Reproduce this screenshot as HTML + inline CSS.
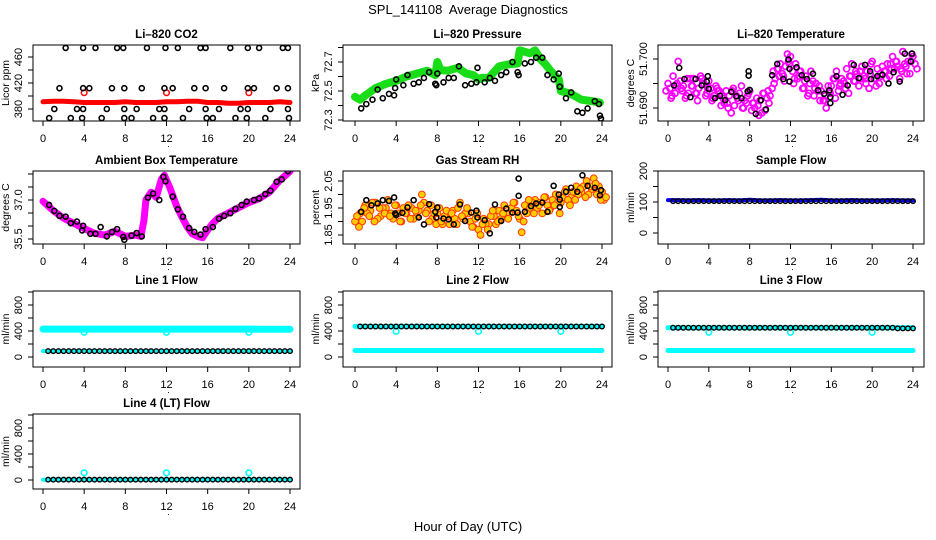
<!DOCTYPE html>
<html><head><meta charset="utf-8"><title>SPL_141108 Average Diagnostics</title>
<style>
html,body{margin:0;padding:0;background:#fff;}
svg{display:block;font-family:"Liberation Sans",Arial,sans-serif;}
</style></head>
<body>
<svg id="chart" width="936" height="540" viewBox="0 0 936 540" xmlns="http://www.w3.org/2000/svg">
<rect width="936" height="540" fill="#fff"/>
<text x="468" y="14" text-anchor="middle" font-size="13" style="white-space:pre">SPL_141108&#160; Average Diagnostics</text>
<text x="468" y="531" text-anchor="middle" font-size="13">Hour of Day (UTC)</text>
</svg>
<script>
// ---------- data ----------
const xTicks = [0,4,8,12,16,20,24];
const halfHours = [0.5,1,1.5,2,2.5,3,3.5,4,4.5,5,5.5,6,6.5,7,7.5,8,8.5,9,9.5,10,10.5,11,11.5,12,12.5,13,13.5,14,14.5,15,15.5,16,16.5,17,17.5,18,18.5,19,19.5,20,20.5,21,21.5,22,22.5,23,23.5,24];
const cloudHours = [0,0.5,1,1.5,2,2.5,3,3.5,4,4.5,5,5.5,6,6.5,7,7.5,8,8.5,9,9.5,10,10.5,11,11.5,12,12.5,13,13.5,14,14.5,15,15.5,16,16.5,17,17.5,18,18.5,19,19.5,20,20.5,21,21.5,22,22.5,23,23.5,24];
const bandHours = [0,1,2,3,4,5,6,7,8,9,10,11,12,13,14,15,16,17,18,19,20,21,22,23,24];

// CO2
const co2BlackH = [2.2,3.9,5.1,7.2,7.8,10.1,11.9,13.1,15.3,15.8,18.2,19.9,21.0,23.3,23.8,
 1.6,3.9,4.5,6.7,7.9,9.6,11.8,12.6,14.7,15.8,17.6,19.9,20.5,22.7,23.8,
 1.1,3.3,3.9,6.2,7.9,9.1,11.3,11.8,14.2,15.8,17.1,19.2,19.9,22.1,23.8,
 0.6,2.7,3.8,5.7,7.9,8.6,10.7,11.8,13.6,15.9,16.5,18.7,19.8,21.6,23.9];
const co2BlackV = [474,474,474,474,474,474,474,474,474,474,474,474,474,474,474,
 412,412,412,412,412,412,412,412,412,412,412,412,412,412,412,
 380,380,380,380,380,380,380,380,380,380,380,380,380,380,380,
 366,366,366,366,366,366,366,366,366,366,366,366,366,366,366];
const co2RedV = [391,392,392,391,390,390,390,390,391,390,390,390,391,391,392,392,390,390,389,389,390,390,390,391,390];
const co2RedPtH = [4,12,20];
const co2RedPtV = [405,405,405];

// Pressure
const presGreenH = [0,0.5,1,2,3,4,5,6,7,7.8,8,8.3,9,10,10.8,11.5,12,12.3,13,14,15,15.8,16,17,17.5,18,18.5,19,19.8,20,21,22,23,23.8];
const presGreenV = [72.46,72.44,72.47,72.52,72.55,72.57,72.60,72.62,72.64,72.61,72.70,72.645,72.64,72.66,72.62,72.61,72.58,72.59,72.59,72.67,72.685,72.69,72.78,72.76,72.78,72.72,72.685,72.64,72.58,72.50,72.48,72.44,72.43,72.42];
const presBlackH = [0.6,1.1,1.7,2.2,2.7,3.3,3.8,3.9,4.0,4.7,5.1,5.7,6.2,6.7,7.2,7.8,7.9,8.0,8.6,9.1,9.6,10.1,10.7,11.3,11.8,11.9,12.6,13.1,13.6,14.2,14.7,15.3,15.8,15.9,16.5,17.1,17.6,18.2,18.7,19.3,19.9,19.8,20.5,21.0,21.6,22.1,22.6,23.3,23.7,23.8,23.9];
const presBlackV = [72.38,72.41,72.44,72.51,72.45,72.48,72.47,72.52,72.58,72.54,72.61,72.55,72.56,72.59,72.63,72.55,72.54,72.62,72.56,72.59,72.59,72.67,72.54,72.55,72.56,72.66,72.56,72.59,72.57,72.61,72.63,72.70,72.63,72.61,72.69,72.70,72.73,72.73,72.61,72.58,72.53,72.62,72.45,72.49,72.36,72.35,72.38,72.43,72.41,72.33,72.31];

// Li-820 temperature
const tempMagA = [51.6950,51.6965,51.6995,51.6945,51.6930,51.6960,51.6940,51.6950,51.6955,51.6925,51.6935,51.6910,51.6925,51.6905,51.6930,51.6915,51.6935,51.6900,51.6915,51.6895,51.6925,51.6960,51.6990,51.6985,51.7005,51.6990,51.6975,51.6965,51.6975,51.6950,51.6935,51.6900,51.6945,51.6975,51.6960,51.6980,51.6990,51.6970,51.6985,51.6975,51.6995,51.6980,51.6985,51.6990,51.7005,51.6985,51.7015,51.6995,51.7005];
const tempMagB = [51.6940,51.6930,51.6955,51.6920,51.6960,51.6930,51.6965,51.6925,51.6940,51.6945,51.6905,51.6935,51.6890,51.6925,51.6945,51.6910,51.6895,51.6920,51.6890,51.6920,51.6940,51.6980,51.6970,51.7010,51.6975,51.6960,51.6940,51.6925,51.6955,51.6935,51.6915,51.6945,51.6960,51.6935,51.6955,51.6930,51.6955,51.6945,51.6965,51.6940,51.6960,51.6950,51.6975,51.6965,51.6980,51.6960,51.6990,51.6970,51.6990];
const tempMagC = [51.6925,51.6950,51.6935,51.6960,51.6945,51.6915,51.6950,51.6940,51.6920,51.6935,51.6920,51.6900,51.6940,51.6915,51.6900,51.6930,51.6910,51.6885,51.6930,51.6910,51.6950,51.6965,51.6955,51.6990,51.6960,51.6975,51.6955,51.6950,51.6940,51.6915,51.6925,51.6930,51.6920,51.6950,51.6940,51.6965,51.6975,51.6960,51.6950,51.6990,51.6945,51.6965,51.6960,51.6980,51.6995,51.6975,51.6970,51.7010,51.6980];
const tempMagD = [51.6935,51.6920,51.6945,51.6940,51.6925,51.6945,51.6930,51.6960,51.6930,51.6915,51.6940,51.6925,51.6910,51.6935,51.6920,51.6900,51.6925,51.6910,51.6905,51.6930,51.6935,51.6975,51.6980,51.6965,51.6995,51.6950,51.6965,51.6940,51.6930,51.6925,51.6945,51.6915,51.6935,51.6960,51.6945,51.6950,51.6965,51.6955,51.6975,51.6960,51.6970,51.6960,51.6970,51.6975,51.6990,51.6995,51.6980,51.6985,51.6995];
const tempBlackH = [0.6,1.1,1.6,2.2,2.7,3.3,3.8,3.9,4.0,4.6,5.1,5.6,6.2,6.7,7.2,7.8,7.9,7.9,8.0,8.6,9.1,9.6,10.2,10.7,11.3,11.8,11.9,11.9,12.6,13.1,13.6,14.2,14.7,15.3,15.8,15.9,15.9,16.5,17.1,17.6,18.2,18.7,19.3,19.8,19.9,20.5,21.0,21.6,22.1,22.7,23.2,23.8,23.9];
const tempBlackV = [51.6946,51.6982,51.6959,51.6922,51.6959,51.6946,51.6954,51.6965,51.6939,51.6920,51.6925,51.6916,51.6933,51.6924,51.6920,51.6934,51.6975,51.6966,51.6937,51.6888,51.6916,51.6897,51.6967,51.6990,51.6959,51.6999,51.6980,51.6954,51.6983,51.6967,51.6959,51.6970,51.6936,51.6929,51.6936,51.6922,51.6910,51.6965,51.6927,51.6946,51.6988,51.6961,51.6988,51.6975,51.6959,51.6965,51.6968,51.6950,51.6973,51.6954,51.7011,51.6995,51.7011];

// Ambient box temperature
const ambMagH = [0,1,2,3,4,5,6,7,8,9,9.5,9.8,10,10.5,11,11.5,11.8,12.3,13,13.5,14,14.5,15,15.5,16,16.5,17,18,19,20,21,22,23,24];
const ambMagV = [36.95,36.59,36.30,36.10,35.90,35.72,35.65,35.80,35.60,35.65,35.60,36.20,37.00,37.30,37.10,37.80,37.95,37.50,36.75,36.35,35.97,35.70,35.60,35.55,35.85,36.10,36.30,36.50,36.70,36.90,37.05,37.30,37.75,38.10];
const ambBlackH = [0.6,1.1,1.6,2.2,2.7,3.3,3.8,3.9,4.6,5.1,5.6,6.2,6.7,7.2,7.8,7.9,8.6,9.1,9.6,10.2,10.7,11.3,11.7,11.9,12.6,13.1,13.6,14.2,14.7,15.3,15.8,16.5,17.1,17.6,18.2,18.7,19.3,19.8,20.5,21.0,21.6,22.1,22.7,23.2,23.8];
const ambBlackV = [36.81,36.58,36.39,36.36,36.11,36.17,35.83,36.01,35.70,35.70,35.96,35.60,35.77,35.88,35.58,35.47,35.63,35.73,35.60,37.09,37.25,37.00,37.89,37.72,37.13,36.64,36.36,35.92,35.77,35.67,35.88,35.96,36.28,36.39,36.49,36.66,36.81,36.94,37.00,37.06,37.23,37.36,37.70,37.79,38.11];

// Gas stream RH
const rhA = [1.90,1.93,1.96,1.94,1.97,1.92,1.95,1.93,1.96,1.90,1.93,1.95,1.92,2.00,1.94,1.91,1.93,1.89,1.92,1.94,1.95,1.91,1.93,1.88,1.87,1.91,1.89,1.92,1.94,1.96,1.93,1.97,1.91,1.96,1.95,1.98,1.97,1.99,1.95,2.00,1.97,2.02,1.99,2.03,2.01,2.05,2.02,2.00,2.01];
const rhB = [1.92,1.90,1.93,1.97,1.91,1.95,1.98,1.91,1.93,1.95,1.96,1.91,1.94,1.97,1.90,1.93,1.95,1.92,1.89,1.91,1.97,1.93,1.90,1.91,1.85,1.89,1.92,1.89,1.91,1.93,1.95,1.94,1.86,1.93,1.97,1.95,1.93,1.96,1.98,1.97,1.99,1.98,2.01,2.00,2.03,2.00,2.06,2.03,1.98];
const rhC = [1.88,1.95,1.92,1.90,1.95,1.93,1.92,1.96,1.90,1.93,1.91,1.94,1.96,1.93,1.96,1.89,1.90,1.94,1.93,1.89,1.92,1.95,1.88,1.93,1.89,1.87,1.94,1.90,1.93,1.91,1.97,1.92,1.90,1.98,1.93,1.96,1.99,1.94,1.96,1.93,2.01,1.96,1.98,2.02,1.99,2.03,2.04,1.98,1.99];
const rhBlackH = [0.6,1.1,1.6,2.2,2.7,3.3,3.8,3.9,4.0,4.6,5.1,5.7,6.2,6.7,7.2,7.8,7.9,8.0,8.6,9.1,9.6,10.2,10.7,11.3,11.8,11.9,12.6,13.1,13.6,14.2,14.7,15.3,15.8,15.9,15.9,16.5,17.1,17.6,18.2,18.7,19.3,19.8,19.9,19.9,20.5,21.0,21.6,22.1,22.6,23.3,23.8,23.9];
const rhBlackV = [1.936,1.979,1.960,1.967,1.979,1.976,1.989,1.930,1.924,1.932,1.952,1.979,1.915,1.889,1.964,1.936,1.915,1.952,1.911,1.908,1.889,1.963,1.902,1.933,1.940,1.915,1.905,1.856,1.963,1.902,1.948,1.933,1.933,1.995,2.059,1.936,1.957,1.967,1.970,1.936,2.032,2.000,1.981,1.954,2.010,2.025,2.010,2.071,2.032,2.025,1.997,2.016];

// Flows
const sampleBlueV = [106,106,105,106,105,105,106,105,107,105,105,106,105,105,106,107,105,105,106,105,105,105,106,105,105];
const sampleBlackV = [103,103,103,103,103,103,103,103,103,103,103,103,103,103,103,103,103,103,103,103,103,103,103,103,103,103,103,103,103,103,103,103,103,103,103,103,103,103,103,103,103,103,103,103,103,103,103,103];
const line1CyanHiV = [430,430,430,430,430,430,430,430,430,430,430,430,430,430,430,430,430,430,430,430,430,428,428,428,428];
const line1CyanLoV = [92,92,92,92,92,92,92,92,92,92,92,92,92,92,92,92,92,92,92,92,92,92,92,92,92];
const line1BlackV = [90,90,90,90,90,90,90,90,90,90,90,90,90,90,90,90,90,90,90,90,90,90,90,90,90,90,90,90,90,90,90,90,90,90,90,90,90,90,90,90,90,90,90,90,90,90,90,90];
const line2CyanLoV = [100,100,100,100,100,100,100,100,100,100,100,100,100,100,100,100,100,100,100,100,100,100,100,100,100];
const line2BlackV = [470,470,470,470,470,470,470,470,470,470,470,470,470,470,470,470,470,470,470,470,470,470,470,470,470,470,470,470,470,470,470,470,470,470,470,470,470,470,470,470,470,470,470,470,470,470,470,470];
const line3CyanLoV = [100,100,100,100,100,100,100,100,100,100,100,100,100,100,100,100,100,100,100,100,100,100,100,100,100];
const line3BlackV = [450,450,450,450,450,450,450,450,450,450,450,450,450,450,450,450,450,450,450,450,450,450,450,450,450,450,450,450,450,450,450,450,450,450,450,450,450,450,450,450,450,450,450,450,440,440,440,440];
const line4BlackV = [5,5,5,5,5,5,5,5,5,5,5,5,5,5,5,5,5,5,5,5,5,5,5,5,5,5,5,5,5,5,5,5,5,5,5,5,5,5,5,5,5,5,5,5,5,5,5,5];
const dipH = [4,12,20];
const line1DipV = [380,380,380];
const line2DipV = [395,395,395];
const line3DipV = [380,380,380];
const line4DipV = [110,110,110];

// ---------- drawing ----------
const NS = "http://www.w3.org/2000/svg";
const svg = document.getElementById('chart');
const COLS = [{bx0:33,bx1:300,x0:43,x24:290},{bx0:343,bx1:612,x0:355,x24:602},{bx0:658,bx1:924,x0:668,x24:913}];
const ROWS = [{by0:45,by1:121},{by0:171,by1:244},{by0:291,by1:367},{by0:414,by1:489}];

function el(tag, attrs, parent){
  const e = document.createElementNS(NS, tag);
  for (const k in attrs) e.setAttribute(k, attrs[k]);
  (parent||svg).appendChild(e);
  return e;
}

function makePanel(cfg){
  const c = COLS[cfg.col], r = ROWS[cfg.row];
  const g = el('g', {});
  
  
  const sx = h => c.x0 + h*(c.x24-c.x0)/24;
  const sy = v => cfg.p1 + (v-cfg.v1)*(cfg.p2-cfg.p1)/(cfg.v2-cfg.v1);
  const t = el('text', {x:(c.bx0+c.bx1)/2, y:r.by0-7, 'text-anchor':'middle', 'font-size':11.5, 'font-weight':'bold'}, g);
  t.textContent = cfg.title;
  
  
  const xa = el('g', {}, g);
  
  
  for (const h of xTicks){
    const x = sx(h);
    el('line', {x1:x, x2:x, y1:r.by1, y2:r.by1+5, stroke:'#000', 'stroke-width':1}, xa);
    const lt = el('text', {x:x, y:r.by1+21, 'text-anchor':'middle', 'font-size':11}, xa);
    lt.textContent = h;
    
    
  }
  const dotTxt = el('text', {x:sx(12)+2, y:r.by1+26, 'text-anchor':'middle', 'font-size':9}, xa);
  dotTxt.textContent = '.';
  const ya = el('g', {}, g);
  
  
  for (const v of cfg.ticks){
    const y = sy(v);
    el('line', {x1:c.bx0-5, x2:c.bx0, y1:y, y2:y, stroke:'#000', 'stroke-width':1}, ya);
  }
  for (let i=0;i<cfg.labels.length;i++){
    const y = sy(cfg.labels[i]);
    const lx = c.bx0-11;
    const lt = el('text', {x:lx, y:y, 'text-anchor':'middle', 'font-size':11, transform:'rotate(-90 '+lx+' '+y+')'}, ya);
    lt.textContent = cfg.labelText[i];
    
    
  }
  const yl = el('text', {x:c.bx0-24, y:(r.by0+r.by1)/2, 'text-anchor':'middle', 'font-size':10.5, transform:'rotate(-90 '+(c.bx0-24)+' '+((r.by0+r.by1)/2)+')'}, ya);
  yl.textContent = cfg.ylab;
  
  
  const clipId = 'clip-' + cfg.name;
  const cp = el('clipPath', {id:clipId}, g);
  el('rect', {x:c.bx0, y:r.by0, width:c.bx1-c.bx0, height:r.by1-r.by0}, cp);
  const plot = el('g', {'clip-path':'url(#'+clipId+')'}, g);
  
  
  const box = el('rect', {x:c.bx0, y:r.by0, width:c.bx1-c.bx0, height:r.by1-r.by0, fill:'none', stroke:'#000', 'stroke-width':1}, g);
  
  
  return {sx, sy, plot};
}

function band(P, hs, vs, color, w, name){
  let d = '';
  for (let i=0;i<hs.length;i++) d += (i?'L':'M') + P.sx(hs[i]).toFixed(1) + ' ' + P.sy(vs[i]).toFixed(1);
  const p = el('path', {d:d, fill:'none', stroke:color, 'stroke-width':w, 'stroke-linejoin':'round', 'stroke-linecap':'round'}, P.plot);
  
  
}
function points(P, hs, vs, color, r, sw, name, fill, dx){
  const g = el('g', {}, P.plot);
  
  
  for (let i=0;i<hs.length;i++){
    const c = el('circle', {cx:P.sx(hs[i])+(dx||0), cy:P.sy(vs[i]), r:r, fill:fill||'none', stroke:color, 'stroke-width':sw}, g);
    
    
  }
}

// CO2
let P = makePanel({name:'co2', col:0, row:0, title:'Li\u2013820 CO2', ylab:'Licor ppm', v1:380, p1:109, v2:460, p2:57, ticks:[380,400,420,440,460], labels:[380,420,460], labelText:['380','420','460']});
band(P, bandHours, co2RedV, '#ff0000', 5, 'co2-red-band');
points(P, co2RedPtH, co2RedPtV, '#ff0000', 2.8, 1.5, 'co2-red-circles');
points(P, co2BlackH, co2BlackV, '#000', 2.5, 1.6, 'co2-black-circles');

// Pressure
P = makePanel({name:'pressure', col:1, row:0, title:'Li\u2013820 Pressure', ylab:'kPa', v1:72.3, p1:120, v2:72.7, p2:62, ticks:[72.3,72.4,72.5,72.6,72.7,72.8], labels:[72.3,72.5,72.7], labelText:['72.3','72.5','72.7']});
band(P, presGreenH, presGreenV, '#18dd18', 8, 'pressure-green-band');
points(P, presBlackH, presBlackV, '#000', 2.5, 1.6, 'pressure-black-circles');

// Temperature
P = makePanel({name:'licor-temp', col:2, row:0, title:'Li\u2013820 Temperature', ylab:'degrees C', v1:51.690, p1:108, v2:51.700, p2:59, ticks:[51.690,51.695,51.700], labels:[51.690,51.700], labelText:['51.690','51.700']});
points(P, cloudHours, tempMagA, '#ff00ff', 3, 1.7, 'temp-magenta-a', 'none', 0);
points(P, cloudHours, tempMagB, '#ff00ff', 3, 1.7, 'temp-magenta-b', 'none', 2);
points(P, cloudHours, tempMagC, '#ff00ff', 3, 1.7, 'temp-magenta-c', 'none', 4);
points(P, cloudHours, tempMagD, '#ff00ff', 3, 1.7, 'temp-magenta-d', 'none', -2);
points(P, tempBlackH, tempBlackV, '#000', 2.5, 1.6, 'temp-black-circles');

// Ambient
P = makePanel({name:'ambient', col:0, row:1, title:'Ambient Box Temperature', ylab:'degrees C', v1:35.5, p1:239, v2:37.0, p2:200, ticks:[35.5,36,36.5,37,37.5,38], labels:[35.5,37.0], labelText:['35.5','37.0']});
band(P, ambMagH, ambMagV, '#ff00ff', 7, 'ambient-magenta-band');
points(P, ambBlackH, ambBlackV, '#000', 2.5, 1.6, 'ambient-black-circles');

// RH
P = makePanel({name:'rh', col:1, row:1, title:'Gas Stream RH', ylab:'percent', v1:1.85, p1:235, v2:2.05, p2:181, ticks:[1.85,1.90,1.95,2.00,2.05], labels:[1.85,1.95,2.05], labelText:['1.85','1.95','2.05']});
points(P, cloudHours, rhA, '#ff3a00', 3.4, 1, 'rh-orange-a', '#ffcc00', 0);
points(P, cloudHours, rhB, '#ff3a00', 3.4, 1, 'rh-orange-b', '#ffcc00', 2);
points(P, cloudHours, rhC, '#ff3a00', 3.4, 1, 'rh-orange-c', '#ffcc00', 4);
points(P, rhBlackH, rhBlackV, '#000', 2.5, 1.6, 'rh-black-circles');

// Sample flow
P = makePanel({name:'sample-flow', col:2, row:1, title:'Sample Flow', ylab:'ml/min', v1:0, p1:233, v2:200, p2:171, ticks:[0,50,100,150,200], labels:[0,100,200], labelText:['0','100','200']});
band(P, bandHours, sampleBlueV, '#0000ff', 4, 'sample-blue-band');
points(P, halfHours, sampleBlackV, '#000', 2.3, 1.4, 'sample-black-circles');

const flowTicks = [0,200,400,600,800,1000];
// Line 1
P = makePanel({name:'line1-flow', col:0, row:2, title:'Line 1 Flow', ylab:'ml/min', v1:0, p1:357, v2:800, p2:305, ticks:flowTicks, labels:[0,400,800], labelText:['0','400','800']});
band(P, bandHours, line1CyanHiV, '#00ffff', 7, 'line1-cyan-high-band');
band(P, bandHours, line1CyanLoV, '#00ffff', 4, 'line1-cyan-low-band');
points(P, dipH, line1DipV, '#00ffff', 2.8, 1.6, 'line1-cyan-dips');
points(P, halfHours, line1BlackV, '#000', 2.3, 1.4, 'line1-black-circles');

// Line 2
P = makePanel({name:'line2-flow', col:1, row:2, title:'Line 2 Flow', ylab:'ml/min', v1:0, p1:357, v2:800, p2:305, ticks:flowTicks, labels:[0,400,800], labelText:['0','400','800']});
band(P, bandHours, line2CyanLoV, '#00ffff', 5, 'line2-cyan-low-band');
band(P, [0,24], [470,470], '#00ffff', 5, 'line2-cyan-high-band');
points(P, dipH, line2DipV, '#00ffff', 2.8, 1.6, 'line2-cyan-dips');
points(P, halfHours, line2BlackV, '#000', 2.3, 1.4, 'line2-black-circles');

// Line 3
P = makePanel({name:'line3-flow', col:2, row:2, title:'Line 3 Flow', ylab:'ml/min', v1:0, p1:357, v2:800, p2:305, ticks:flowTicks, labels:[0,400,800], labelText:['0','400','800']});
band(P, bandHours, line3CyanLoV, '#00ffff', 5, 'line3-cyan-low-band');
band(P, [0,24], [450,450], '#00ffff', 5, 'line3-cyan-high-band');
points(P, dipH, line3DipV, '#00ffff', 2.8, 1.6, 'line3-cyan-dips');
points(P, halfHours, line3BlackV, '#000', 2.3, 1.4, 'line3-black-circles');

// Line 4
P = makePanel({name:'line4-flow', col:0, row:3, title:'Line 4 (LT) Flow', ylab:'ml/min', v1:0, p1:480, v2:800, p2:428, ticks:flowTicks, labels:[0,400,800], labelText:['0','400','800']});
band(P, [0,24], [5,5], '#00ffff', 4, 'line4-cyan-band');
points(P, dipH, line4DipV, '#00ffff', 2.8, 1.6, 'line4-cyan-spikes');
points(P, halfHours, line4BlackV, '#000', 2.3, 1.4, 'line4-black-circles');
</script>
</body></html>
